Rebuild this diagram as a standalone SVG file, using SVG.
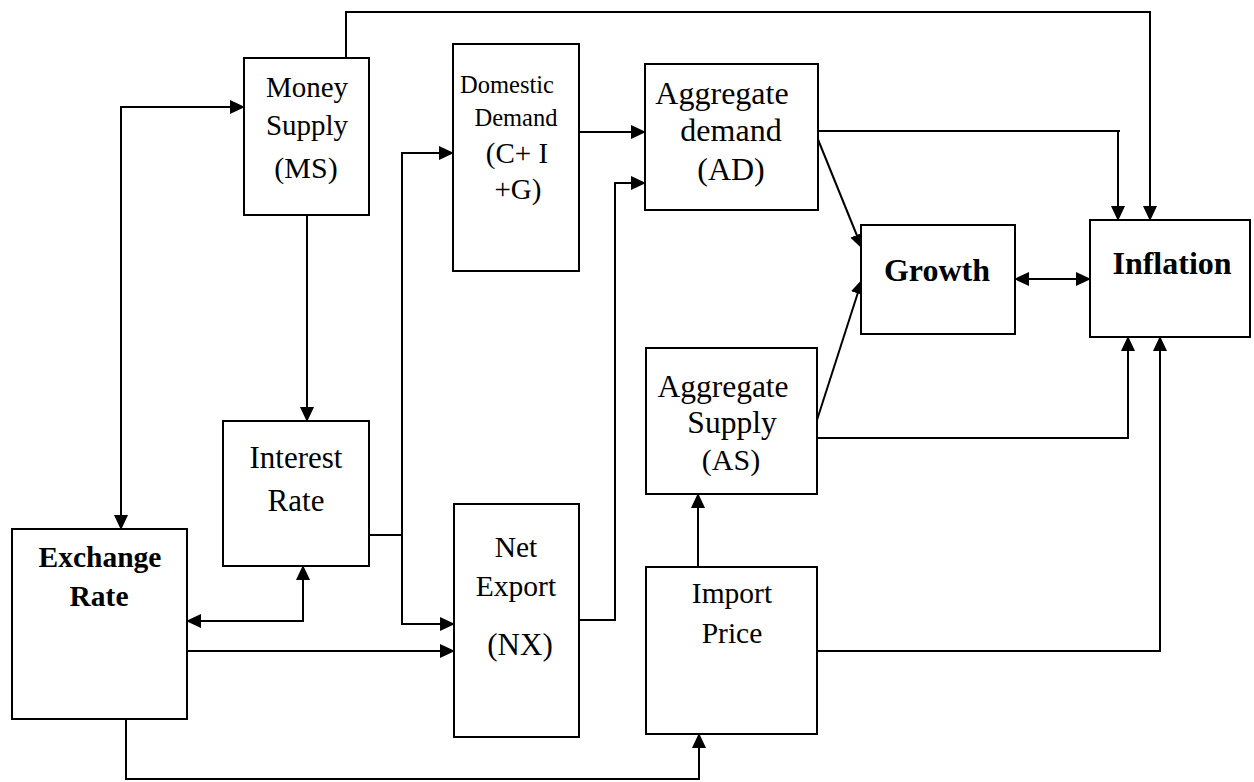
<svg xmlns="http://www.w3.org/2000/svg" width="1254" height="782" viewBox="0 0 1254 782">
<style>
.box{fill:#fff;stroke:#000;stroke-width:2}
.t{font-family:"Liberation Serif","Times New Roman",serif;text-anchor:middle;fill:#000}
.b{font-weight:bold}
.c{fill:none;stroke:#000;stroke-width:2}
</style>
<defs>
<marker id="ah" markerUnits="userSpaceOnUse" markerWidth="15" markerHeight="14" refX="14" refY="7" orient="auto-start-reverse">
<path d="M0,0 L15,7 L0,14 z" fill="#000"/>
</marker>
</defs>
<rect width="1254" height="782" fill="#fff"/>
<g id="connectors">
<path class="c" d="M346,58 V12 H1150 V220" marker-end="url(#ah)"/>
<path class="c" d="M244,107 H121 V529" marker-start="url(#ah)" marker-end="url(#ah)"/>
<path class="c" d="M307,215 V421" marker-end="url(#ah)"/>
<path class="c" d="M369,535 H402"/>
<path class="c" d="M453,153 H402 V624 H454" marker-start="url(#ah)" marker-end="url(#ah)"/>
<path class="c" d="M579,132 H645" marker-end="url(#ah)"/>
<path class="c" d="M579,620 H615 V183 H645" marker-end="url(#ah)"/>
<path class="c" d="M187,621 H303 V566" marker-start="url(#ah)" marker-end="url(#ah)"/>
<path class="c" d="M187,651 H454" marker-end="url(#ah)"/>
<path class="c" d="M126,719 V779 H699 V734" marker-end="url(#ah)"/>
<path class="c" d="M698,567 V494" marker-end="url(#ah)"/>
<path class="c" d="M818,131 H1120 M1118,131 V220" marker-end="url(#ah)"/>
<path class="c" d="M817,137 L862,248" marker-end="url(#ah)"/>
<path class="c" d="M817,420 L862,280" marker-end="url(#ah)"/>
<path class="c" d="M1015,279 H1090" marker-start="url(#ah)" marker-end="url(#ah)"/>
<path class="c" d="M817,438 H1128 V337" marker-end="url(#ah)"/>
<path class="c" d="M817,651 H1160 V337" marker-end="url(#ah)"/>
</g>
<g id="money-supply">
<rect class="box" x="244" y="58" width="125" height="157"/>
<text class="t" font-size="29" x="307" y="97">Money</text>
<text class="t" font-size="29" x="307" y="135">Supply</text>
<text class="t" font-size="30" x="306" y="178">(MS)</text>
</g>
<g id="domestic-demand">
<rect class="box" x="453" y="44" width="126" height="227"/>
<text class="t" font-size="24.5" x="507" y="93">Domestic</text>
<text class="t" font-size="24.5" x="516" y="126">Demand</text>
<text class="t" font-size="29" x="517" y="163">(C+ I</text>
<text class="t" font-size="29" x="518" y="199">+G)</text>
</g>
<g id="aggregate-demand">
<rect class="box" x="645" y="64" width="173" height="146"/>
<text class="t" font-size="32" x="722" y="104">Aggregate</text>
<text class="t" font-size="32" x="731" y="141">demand</text>
<text class="t" font-size="32" x="731" y="180">(AD)</text>
</g>
<g id="growth">
<rect class="box" x="861" y="225" width="154" height="109"/>
<text class="t b" font-size="32" x="937" y="281">Growth</text>
</g>
<g id="inflation">
<rect class="box" x="1090" y="220" width="160" height="117"/>
<text class="t b" font-size="32" x="1172" y="274">Inflation</text>
</g>
<g id="interest-rate">
<rect class="box" x="223" y="421" width="146" height="145"/>
<text class="t" font-size="31" x="296" y="468">Interest</text>
<text class="t" font-size="31" x="296" y="511">Rate</text>
</g>
<g id="exchange-rate">
<rect class="box" x="12" y="529" width="175" height="190"/>
<text class="t b" font-size="29.5" x="100" y="567">Exchange</text>
<text class="t b" font-size="29.5" x="99" y="606">Rate</text>
</g>
<g id="net-export">
<rect class="box" x="454" y="504" width="125" height="233"/>
<text class="t" font-size="29.5" x="516" y="557">Net</text>
<text class="t" font-size="29.5" x="516" y="596">Export</text>
<text class="t" font-size="31" x="520" y="655">(NX)</text>
</g>
<g id="aggregate-supply">
<rect class="box" x="646" y="348" width="171" height="146"/>
<text class="t" font-size="31.5" x="723" y="397">Aggregate</text>
<text class="t" font-size="31.5" x="732" y="433">Supply</text>
<text class="t" font-size="30" x="731" y="470">(AS)</text>
</g>
<g id="import-price">
<rect class="box" x="646" y="567" width="171" height="167"/>
<text class="t" font-size="29.5" x="732" y="603">Import</text>
<text class="t" font-size="29.5" x="732" y="643">Price</text>
</g>
</svg>
